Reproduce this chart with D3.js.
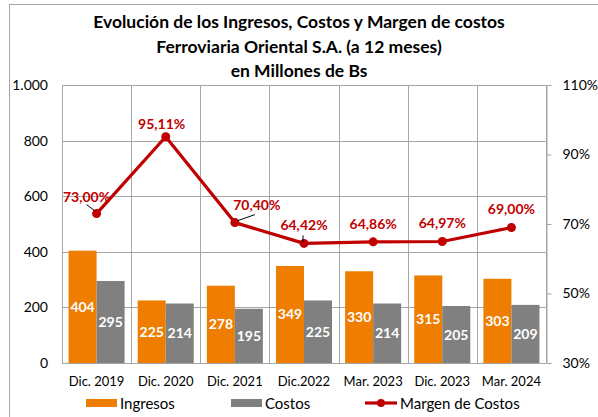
<!DOCTYPE html>
<html>
<head>
<meta charset="utf-8">
<script src="https://cdn.jsdelivr.net/npm/d3@7"></script>
<style>
  body { margin: 0; background: #fff; }
  svg { display: block; font-family: Lato, "Liberation Sans", sans-serif; }
</style>
</head>
<body>
<svg id="chart" width="598" height="417"></svg>
<script>
// datos
const categorias = ["Dic. 2019", "Dic. 2020", "Dic. 2021", "Dic.2022", "Mar. 2023", "Dic. 2023", "Mar. 2024"];
const ingresos = [404, 225, 278, 349, 330, 315, 303];
const costos = [295, 214, 195, 225, 214, 205, 209];
const margen = [73.00, 95.11, 70.40, 64.42, 64.86, 64.97, 69.00];
const ticksIzq = [0, 200, 400, 600, 800, 1000];
const ticksDer = [30, 50, 70, 90, 110];
const titulo = [
  "Evolución de los Ingresos, Costos y Margen de costos",
  "Ferroviaria Oriental S.A. (a 12 meses)",
  "en Millones de Bs"
];

const naranja = "#EE7D00";
const gris = "#808080";
const rojo = "#C00000";
const grid = "#A6A6A6";

const svg = d3.select("#chart");
const plot = { left: 62, right: 546, top: 85, bottom: 363 };

// marco exterior
svg.append("rect")
  .attr("x", 9.5).attr("y", 4.5)
  .attr("width", 600).attr("height", 420)
  .attr("fill", "none").attr("stroke", "#A6A6A6");

// titulo
svg.append("g").selectAll("text")
  .data(titulo)
  .join("text")
  .attr("x", 299)
  .attr("y", (d, i) => 28 + i * 24.5)
  .attr("text-anchor", "middle")
  .attr("font-size", "17.5px")
  .attr("font-weight", "bold")
  .attr("fill", "#000")
  .text(d => d);

// escalas
const x = d3.scaleBand().domain(categorias).range([plot.left, plot.right]);
const x1 = d3.scaleBand().domain(["ing", "cos"]).range([0, x.bandwidth()]).paddingOuter(0.234);
const y = d3.scaleLinear().domain([0, 1000]).range([plot.bottom, plot.top]);
const y2 = d3.scaleLinear().domain([30, 110]).range([plot.bottom, plot.top]);

// grilla horizontal
svg.append("g").selectAll("line")
  .data(ticksIzq)
  .join("line")
  .attr("x1", plot.left).attr("x2", plot.right)
  .attr("y1", d => Math.round(y(d)) + 0.5).attr("y2", d => Math.round(y(d)) + 0.5)
  .attr("stroke", grid);

// grilla vertical (limites de categoria)
const bordes = categorias.map(c => x(c)).concat([plot.right]);
svg.append("g").selectAll("line")
  .data(bordes)
  .join("line")
  .attr("x1", d => Math.round(d) + 0.5).attr("x2", d => Math.round(d) + 0.5)
  .attr("y1", plot.top).attr("y2", plot.bottom)
  .attr("stroke", grid);

// eje izquierdo
svg.append("g").selectAll("text")
  .data(ticksIzq)
  .join("text")
  .attr("x", 48)
  .attr("y", d => y(d) + 5)
  .attr("text-anchor", "end")
  .attr("font-size", "14px")
  .attr("fill", "#000")
  .text(d => d3.format(",")(d).replace(",", "."));

// eje derecho
const ejeDer = d3.axisRight(y2)
  .tickValues(ticksDer)
  .tickSize(5)
  .tickPadding(11)
  .tickFormat(d => d + "%");
svg.append("g")
  .attr("transform", `translate(${plot.right + 0.5},0)`)
  .call(ejeDer)
  .call(g => g.selectAll("path, line").attr("stroke", grid))
  .call(g => g.selectAll("text").attr("font-size", "14px").attr("font-family", "Lato, sans-serif").attr("fill", "#000"));

// eje x
svg.append("line")
  .attr("x1", plot.left).attr("x2", plot.right)
  .attr("y1", plot.bottom + 0.5).attr("y2", plot.bottom + 0.5)
  .attr("stroke", grid);

svg.append("g").selectAll("text")
  .data(categorias)
  .join("text")
  .attr("x", d => x(d) + x.bandwidth() / 2)
  .attr("y", 386)
  .attr("text-anchor", "middle")
  .attr("font-size", "13px")
  .attr("fill", "#000")
  .text(d => d);

// barras
const filas = categorias.map((c, i) => ({ cat: c, ing: ingresos[i], cos: costos[i] }));
const grupos = svg.append("g").selectAll("g")
  .data(filas)
  .join("g")
  .attr("transform", d => `translate(${x(d.cat)},0)`);

grupos.selectAll("rect")
  .data(d => [{ k: "ing", v: d.ing }, { k: "cos", v: d.cos }])
  .join("rect")
  .attr("x", d => x1(d.k))
  .attr("width", x1.bandwidth())
  .attr("y", d => y(d.v))
  .attr("height", d => y(0) - y(d.v))
  .attr("fill", d => d.k === "ing" ? naranja : gris);

grupos.selectAll("text")
  .data(d => [{ k: "ing", v: d.ing }, { k: "cos", v: d.cos }])
  .join("text")
  .attr("x", d => x1(d.k) + x1.bandwidth() / 2)
  .attr("y", d => (y(d.v) + y(0)) / 2 + 5)
  .attr("text-anchor", "middle")
  .attr("font-size", "14px")
  .attr("font-weight", "bold")
  .attr("fill", "#fff")
  .text(d => d.v);

// linea de margen
const puntos = categorias.map((c, i) => ({ cat: c, v: margen[i] }));
const cx = d => x(d.cat) + x.bandwidth() / 2;

svg.append("path")
  .datum(puntos)
  .attr("d", d3.line().x(cx).y(d => y2(d.v)))
  .attr("fill", "none")
  .attr("stroke", rojo)
  .attr("stroke-width", 3.2)
  .attr("stroke-linejoin", "round");

svg.append("g").selectAll("circle")
  .data(puntos)
  .join("circle")
  .attr("cx", cx)
  .attr("cy", d => y2(d.v))
  .attr("r", 4.5)
  .attr("fill", rojo);

// posicion de etiquetas (desplazamiento respecto al punto)
const offEtiq = [[-10, -17], [-4, -13], [22, -18], [0, -18], [0, -18], [0, -18], [0, -18]];
const lideres = [[[-10, -9], [-2, -3]], null, [[20, -8], [3, -2]], [[-1, -8], [-1, -1]], null, null, null];

svg.append("g").selectAll("line")
  .data(puntos.map((d, i) => ({ d, l: lideres[i] })).filter(o => o.l))
  .join("line")
  .attr("x1", o => cx(o.d) + o.l[0][0]).attr("y1", o => y2(o.d.v) + o.l[0][1])
  .attr("x2", o => cx(o.d) + o.l[1][0]).attr("y2", o => y2(o.d.v) + o.l[1][1])
  .attr("stroke", "#000")
  .attr("stroke-width", 1);

svg.append("g").selectAll("text")
  .data(puntos)
  .join("text")
  .attr("x", (d, i) => cx(d) + offEtiq[i][0])
  .attr("y", (d, i) => y2(d.v) + offEtiq[i][1] + 5)
  .attr("text-anchor", "middle")
  .attr("font-size", "14px")
  .attr("font-weight", "bold")
  .attr("fill", rojo)
  .text(d => d.v.toFixed(2).replace(".", ",") + "%");

// leyenda
const ley = svg.append("g").attr("font-size", "15px").attr("fill", "#000");
ley.append("rect").attr("x", 86).attr("y", 399).attr("width", 31).attr("height", 8).attr("fill", naranja);
ley.append("text").attr("x", 120).attr("y", 409).text("Ingresos");
ley.append("rect").attr("x", 231).attr("y", 399).attr("width", 31).attr("height", 8).attr("fill", gris);
ley.append("text").attr("x", 265).attr("y", 409).text("Costos");
ley.append("line").attr("x1", 365).attr("x2", 397).attr("y1", 403).attr("y2", 403)
  .attr("stroke", rojo).attr("stroke-width", 3.2);
ley.append("circle").attr("cx", 381).attr("cy", 403).attr("r", 4).attr("fill", rojo);
ley.append("text").attr("x", 400).attr("y", 409).text("Margen de Costos");
</script>
</body>
</html>
